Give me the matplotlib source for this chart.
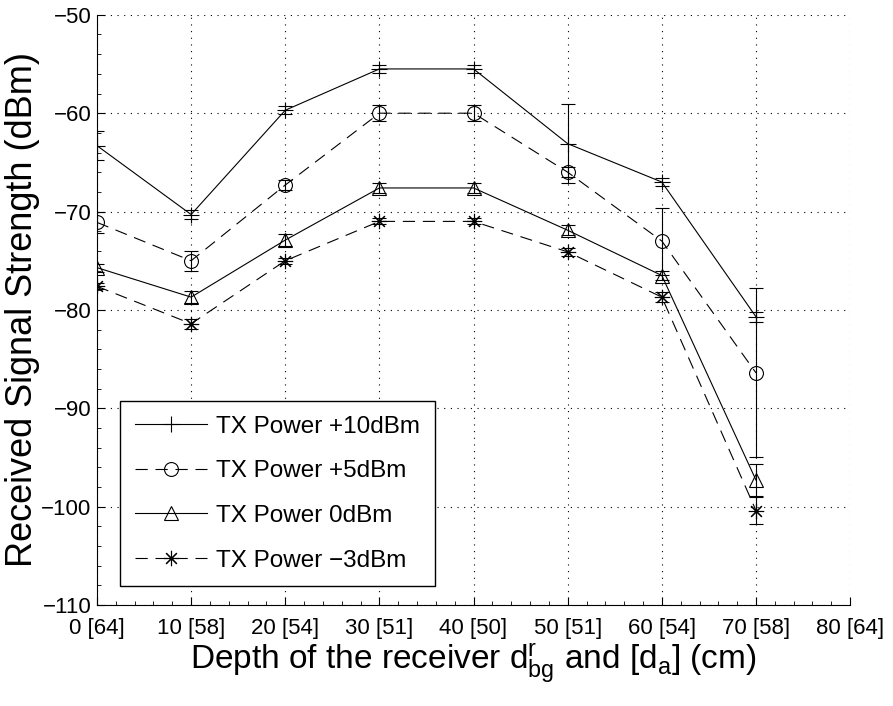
import numpy as np
import matplotlib
matplotlib.use('Agg')
import matplotlib.pyplot as plt
from matplotlib.ticker import AutoMinorLocator

plt.rcParams['font.family'] = ['Liberation Sans', 'DejaVu Sans']
plt.rcParams['mathtext.fontset'] = 'custom'
plt.rcParams['mathtext.rm'] = 'Liberation Sans'
plt.rcParams['mathtext.it'] = 'Liberation Sans'

depth = [0, 10, 20, 30, 40, 50, 60, 70]
tick_pos = [0, 10, 20, 30, 40, 50, 60, 70, 80]
tick_labels = ['0 [64]', '10 [58]', '20 [54]', '30 [51]', '40 [50]',
               '50 [51]', '60 [54]', '70 [58]', '80 [64]']

p10 = [-63.3, -70.3, -59.7, -55.5, -55.5, -63.1, -67.0, -80.7]
p10_err = [1.5, 0.5, 0.4, 0.4, 0.4, 4.0, 0.4, 0.5]
p5 = [-71.1, -75.0, -67.3, -60.0, -60.0, -66.0, -73.0, -86.4]
p5_err = [1.1, 1.0, 0.5, 0.8, 0.8, 0.5, 3.4, 8.6]
p0 = [-75.7, -78.7, -72.9, -67.6, -67.6, -71.9, -76.5, -97.3]
p0_err = [0.4, 0.6, 0.6, 0.5, 0.5, 0.5, 0.5, 1.6]
m3 = [-77.6, -81.4, -75.0, -71.0, -71.0, -74.1, -78.7, -100.4]
m3_err = [0.3, 0.5, 0.3, 0.3, 0.3, 0.4, 0.5, 1.4]

names = ['TX Power +10dBm', 'TX Power +5dBm', 'TX Power 0dBm', 'TX Power \u22123dBm']
series = [p10, p5, p0, m3]
errs = [p10_err, p5_err, p0_err, m3_err]
markers = ['+', 'o', '^', (8, 2, 0)]
styles = ['-', '--', '-', '--']
msizes = [12, 10, 10, 11]

fig = plt.figure(figsize=(8.93, 7.06), dpi=100)
ax = fig.add_axes([0.1086, 0.143, 0.8434, 0.836])

handles = []
for y, e, mk, ls, ms, nm in zip(series, errs, markers, styles, msizes, names):
    ax.errorbar(depth, y, yerr=e, fmt='none', ecolor='k', elinewidth=0.8,
                capsize=5, capthick=0.8)
    h, = ax.plot(depth, y, color='k', ls=ls, lw=0.8, marker=mk, ms=ms,
                 mfc='none', mec='k', mew=0.8, label=nm)
    if ls == '--':
        h.set_dashes((11, 7))
    handles.append(h)

ax.set_xlim(0, 80)
ax.set_ylim(-110, -50)
ax.set_xticks(tick_pos)
ax.set_xticklabels(tick_labels)
ax.set_yticks(np.arange(-110, -49, 10))
ax.xaxis.set_minor_locator(AutoMinorLocator(5))
ax.yaxis.set_minor_locator(AutoMinorLocator(5))
ax.tick_params(which='both', direction='in', labelsize=16, top=False, right=False)
ax.tick_params(which='major', length=6)
ax.tick_params(which='minor', length=3)
ax.tick_params(axis='x', pad=9)
ax.tick_params(axis='y', pad=4)
ax.grid(True, which='major', color='k', ls=(0, (1, 5)), lw=0.8)
ax.spines['top'].set_visible(False)
ax.spines['right'].set_visible(False)
ax.spines['left'].set_linewidth(0.8)
ax.spines['bottom'].set_linewidth(0.8)

ax.set_xlabel('Depth of the receiver d$^{r}_{bg}$ and [d$_{a}$] (cm)', fontsize=24)
ax.xaxis.set_label_coords(0.5, -0.062)
ax.set_ylabel('Received Signal Strength (dBm)', fontsize=26)
ax.yaxis.set_label_coords(-0.075, 0.5)

leg = ax.legend(handles=handles, loc='lower left', bbox_to_anchor=(0.0305, 0.032),
                borderaxespad=0, fontsize=17.5, handlelength=3.0, handletextpad=0.35,
                labelspacing=0.93, fancybox=False, framealpha=1, edgecolor='k',
                borderpad=0.6)
leg.get_frame().set_linewidth(1.0)

fig.savefig('out.png', dpi=100)
